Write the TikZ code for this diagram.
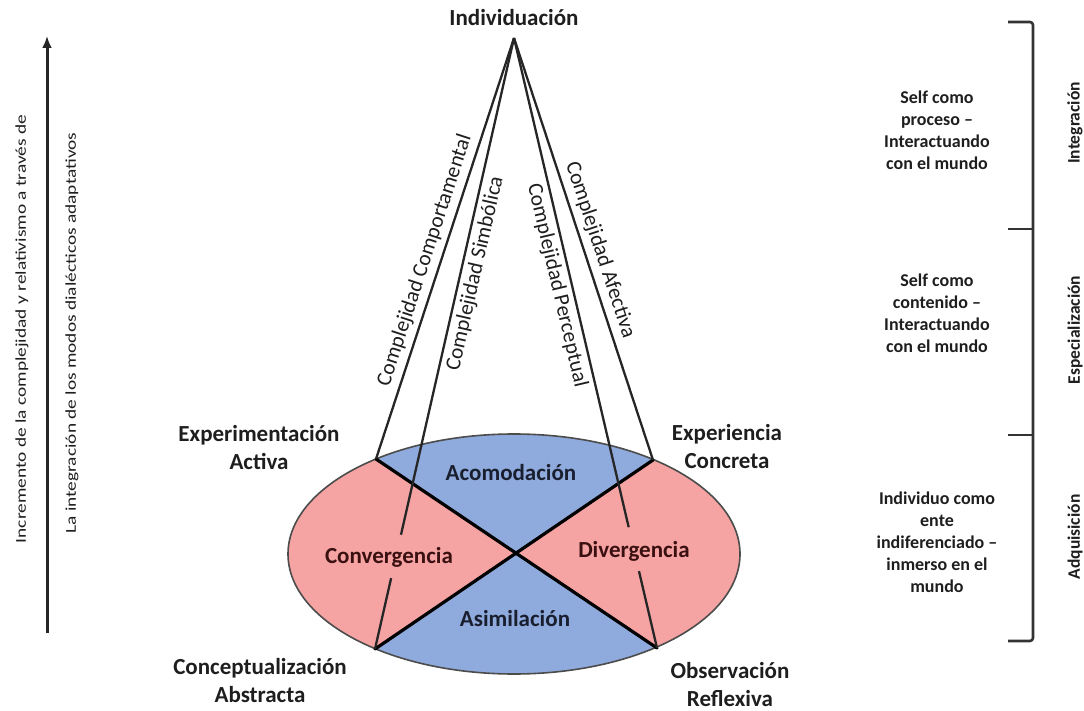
\documentclass[tikz,border=0pt]{standalone}
\usepackage{fontspec}
\setmainfont{Carlito}
\usetikzlibrary{calc,arrows.meta}
\definecolor{pinkfill}{HTML}{F5A3A3}
\definecolor{bluefill}{HTML}{8FAADC}
\definecolor{navytext}{HTML}{1A1F30}
\definecolor{maroontext}{HTML}{3A1010}
\definecolor{inkgray}{HTML}{1E1E1E}
\begin{document}
\begin{tikzpicture}[x=1pt,y=-1pt,
  lbl/.style={font=\fontsize{23}{28}\selectfont\bfseries, align=center, text=inkgray},
  cpx/.style={font=\fontsize{21.5}{26}\selectfont, sloped, inner sep=5pt, text=inkgray},
  side/.style={font=\fontsize{18}{22}\selectfont\bfseries, align=center, text=inkgray},
  stage/.style={font=\fontsize{17.5}{21}\selectfont\bfseries, rotate=90, text=inkgray},
  axis/.style={font=\fontsize{15}{18}\selectfont, rotate=90, text=inkgray},
  ray/.style={line width=2.3pt, draw=black!85},
  cross/.style={line width=3.2pt, draw=black, line cap=round},
  rim/.style={line width=1.6pt, draw=black!70},
  brk/.style={line width=2.6pt, draw=black!80, line join=round, rounded corners=3pt}
]
\useasboundingbox (0,0) rectangle (1084,711);

% key points of the learning cycle
\coordinate (apex) at (514,38);
\coordinate (TL) at (376,459);
\coordinate (TR) at (653,460);
\coordinate (BL) at (375,649);
\coordinate (BR) at (657,648);
\coordinate (X) at (intersection of TL--BR and TR--BL);
\coordinate (oc) at (514,554);

% coloured quadrants of the oval
\begin{scope}
  \clip (oc) ellipse [x radius=226pt, y radius=120pt];
  \fill[pinkfill] (0,0) rectangle (1084,711);
  \fill[bluefill] (X) -- ($(X)!4!(TL)$) -- ($(X)!4!(TR)$) -- cycle;
  \fill[bluefill] (X) -- ($(X)!4!(BL)$) -- ($(X)!4!(BR)$) -- cycle;
\end{scope}
\draw[rim] (oc) ellipse [x radius=226pt, y radius=120pt];
\draw[cross] (TL) -- (BR);
\draw[cross] (TR) -- (BL);

% rays from the apex
\draw[ray] (TL) -- (apex) node[cpx, above, pos=0.46] {Complejidad Comportamental};
\draw[ray] (apex) -- (TR) node[cpx, above, pos=0.514] {Complejidad Afectiva};
\coordinate (g2a) at ($(apex)!0.813!(BL)$);
\coordinate (g2b) at ($(apex)!0.884!(BL)$);
\draw[ray] (apex) -- (g2a);
\draw[ray] (g2b) -- (BL);
\path (BL) -- (apex) node[cpx, below, pos=0.62] {Complejidad Simbólica};
\coordinate (g3a) at ($(apex)!0.802!(BR)$);
\coordinate (g3b) at ($(apex)!0.874!(BR)$);
\draw[ray] (apex) -- (g3a);
\draw[ray] (g3b) -- (BR);
\path (apex) -- (BR) node[cpx, below, pos=0.40] {Complejidad Perceptual};

% labels
\node[lbl] (indiv) at (514,18) {Individuación};
\node[lbl] (ea) at (259,448) {Experimentación\\Activa};
\node[lbl] (ec) at (727,447) {Experiencia\\Concreta};
\node[lbl] (ca) at (260,681) {Conceptualización\\Abstracta};
\node[lbl] (ro) at (730,685) {Observación\\Reflexiva};

\node[lbl, text=navytext] (acom) at (511,473) {Acomodación};
\node[lbl, text=navytext] (asim) at (515,619) {Asimilación};
\node[lbl, text=maroontext] (conv) at (389,557) {Convergencia};
\node[lbl, text=maroontext] (dive) at (634,551) {Divergencia};

% stages on the right
\node[side] (s1) at (937,130) {Self como\\proceso –\\Interactuando\\con el mundo};
\node[side] (s2) at (937,313) {Self como\\contenido –\\Interactuando\\con el mundo};
\node[side] (s3) at (937,542) {Individuo como\\ente\\indiferenciado –\\inmerso en el\\mundo};

\coordinate (b0) at (1033,22);
\coordinate (b1) at (1033,229);
\coordinate (b2) at (1033,435);
\coordinate (b3) at (1033,641);
\coordinate (b0l) at (1008,22);
\coordinate (b1l) at (1008,229);
\coordinate (b2l) at (1008,435);
\coordinate (b3l) at (1008,641);
\draw[brk] (b0l) -- (b0) -- (b3) -- (b3l);
\draw[brk] (b1l) -- (b1);
\draw[brk] (b2l) -- (b2);

\node[stage] (st1) at (1075,123) {Integración};
\node[stage] (st2) at (1075,330) {Especialización};
\node[stage] (st3) at (1075,537) {Adquisición};

% vertical axis on the left
\coordinate (ab) at (47,633);
\coordinate (at) at (47,36);
\draw[line width=3pt, draw=black!85, -{Latex[length=12pt,width=10pt]}] (ab) -- (at);
\node[axis] (t1) at (22,329) {\scalebox{1.29}[1]{Incremento de la complejidad y relativismo a través de}};
\node[axis] (t2) at (72,333) {\scalebox{1.29}[1]{La integración de los modos dialécticos adaptativos}};
\end{tikzpicture}
\end{document}
